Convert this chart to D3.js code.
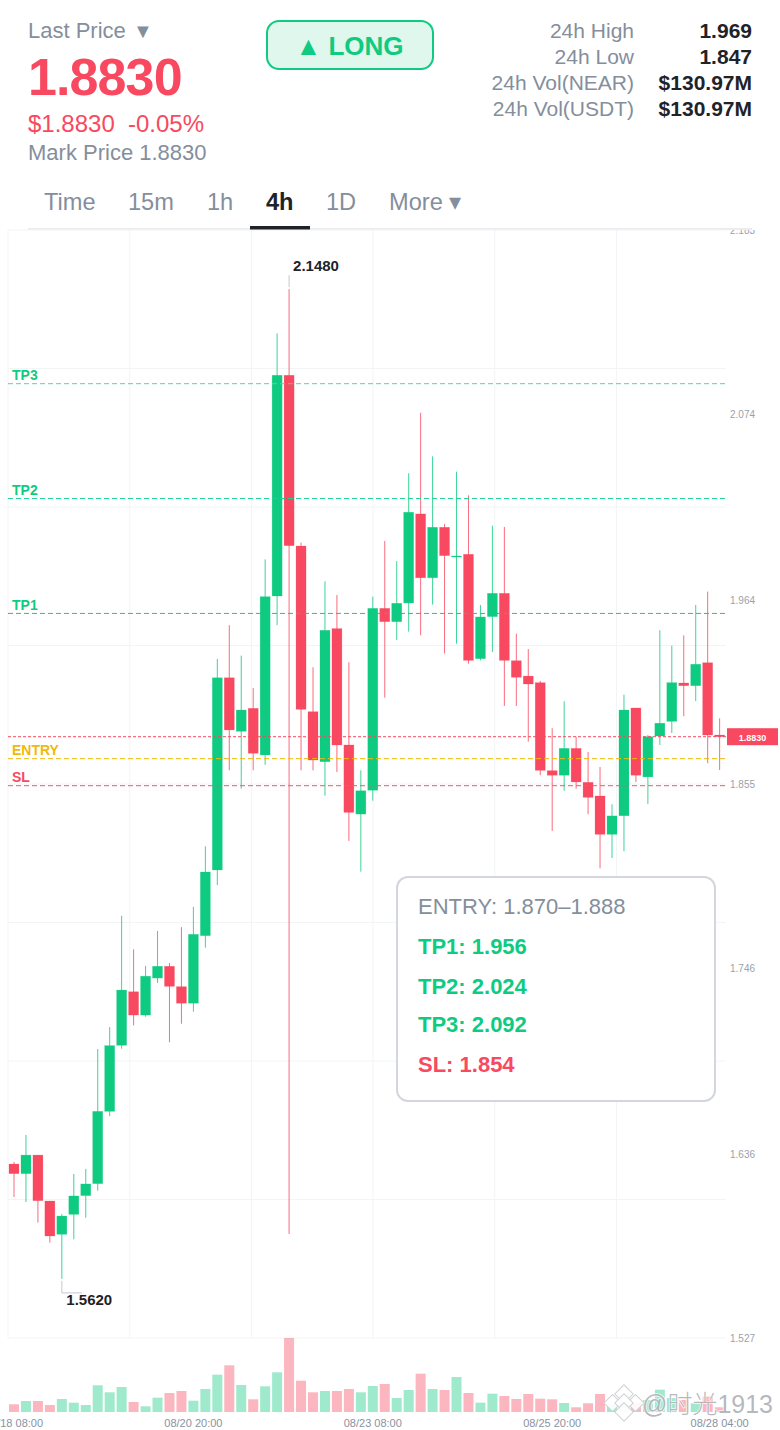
<!DOCTYPE html>
<html>
<head>
<meta charset="utf-8">
<script src="https://cdnjs.cloudflare.com/ajax/libs/d3/7.8.5/d3.min.js"></script>
<style>
html,body{margin:0;padding:0;background:#fff;}
svg{display:block;}
text{font-family:"Liberation Sans",Arial,sans-serif;}
</style>
</head>
<body>
<div id="chart"></div>
<script>
// ---- data ----
const opens  = [1.6300,1.6243,1.6353,1.6081,1.5884,1.6002,1.6113,1.6184,1.6612,1.7003,1.7320,1.7182,1.7401,1.7471,1.7350,1.7252,1.7652,1.8041,1.9179,1.8862,1.8998,1.8722,1.9663,2.0970,1.9959,1.8978,1.8682,1.9470,1.8781,1.8372,1.8513,1.9590,1.9511,1.9622,2.0149,1.9771,2.0070,1.9896,1.9910,1.9292,1.9541,1.9679,1.9280,1.9189,1.9150,1.8629,1.8602,1.8761,1.8560,1.8479,1.8252,1.8362,1.9000,1.8592,1.8834,1.8921,1.9148,1.9132,1.9268,1.8840];
const highs  = [1.6312,1.6472,1.6353,1.6081,1.6004,1.6241,1.6271,1.6981,1.7111,1.7770,1.7571,1.7473,1.7680,1.7490,1.7702,1.7822,1.8181,1.9290,1.9490,1.9310,1.9118,1.9880,2.1218,2.1480,1.9979,1.9241,1.9750,1.9669,1.9271,1.8631,1.9659,1.9989,1.9870,2.0390,2.0748,2.0490,2.0089,2.0399,2.0259,1.9610,2.0079,2.0072,1.9440,1.9349,1.9160,1.8880,1.9040,1.8830,1.8740,1.8651,1.8430,1.9079,1.9000,1.8840,1.9460,1.9369,1.9430,1.9610,1.9689,1.8939];
const lows   = [1.6105,1.6075,1.5953,1.5834,1.5620,1.5854,1.5982,1.6142,1.6583,1.6983,1.7121,1.7172,1.7372,1.7021,1.7131,1.7202,1.7581,1.7952,1.8631,1.8522,1.8631,1.8663,1.9491,1.5886,1.8631,1.8631,1.8481,1.8621,1.8213,1.8031,1.8451,1.9061,1.9403,1.9452,1.9430,1.9612,1.9322,1.9381,1.9262,1.9282,1.9332,1.9012,1.9012,1.8801,1.8602,1.8272,1.8510,1.8522,1.8371,1.8051,1.8112,1.8152,1.8562,1.8432,1.8781,1.8852,1.8951,1.9041,1.8673,1.8633];
const closes = [1.6243,1.6353,1.6083,1.5874,1.5992,1.6111,1.6182,1.6612,1.7001,1.7330,1.7182,1.7412,1.7471,1.7352,1.7252,1.7660,1.8029,1.9179,1.8870,1.8988,1.8732,1.9659,2.0970,1.9961,1.8992,1.8692,1.9460,1.8781,1.8382,1.8510,1.9590,1.9511,1.9620,2.0159,1.9771,2.0070,1.9902,1.9900,1.9282,1.9539,1.9679,1.9282,1.9182,1.9142,1.8631,1.8602,1.8761,1.8562,1.8471,1.8252,1.8361,1.8988,1.8602,1.8830,1.8910,1.9150,1.9132,1.9259,1.8840,1.8830];
const volumes = [7.7,11,11,7,13,9.3,7,26.7,19.7,25,10,5.7,14.3,19,21,11.3,23,37.3,46.7,27,12.7,25.7,39.7,74,31.3,19.7,21,21,23,19.7,26,28,14,22,38.3,23,22,35,19,9.3,18.3,16,13,18,13.3,12.7,9,4.7,8.7,18,8,7.7,9.3,12,22.3,14,12,8.7,15.3,4.7];
const maxVolume = 74;

const priceTicks = [2.183,2.074,1.964,1.855,1.746,1.636,1.527];
const gridPrices = [2.183,2.101,2.019,1.937,1.855,1.773,1.691,1.609,1.527];
const gridCandles = [-0.5,9.68,19.85,30.03,40.2,50.38];
const timeTicks = [0,15,30,45,59];
const timeLabels = ["08/18 08:00","08/20 20:00","08/23 08:00","08/25 20:00","08/28 04:00"];
const levelNames = ["TP3","TP2","TP1","ENTRY","SL"];
const levelPrices = [2.092,2.024,1.956,1.870,1.854];
const levelColors = ["#4fd8a8","#1fd195","#2db98c","#f0b90b","#f5566c"];
const lastPrice = 1.883;

const tabs = ["Time","15m","1h","4h","1D","More ▾"];
const statLabels = ["24h High","24h Low","24h Vol(NEAR)","24h Vol(USDT)"];
const statValues = ["1.969","1.847","$130.97M","$130.97M"];
const planLines = ["ENTRY: 1.870–1.888","TP1: 1.956","TP2: 2.024","TP3: 2.092","SL: 1.854"];

// ---- palette ----
const UP="#0ecb81", DOWN="#f84960", GREY="#848e9c", DARK="#1e2329";

const svg=d3.select("#chart").append("svg").attr("width",780).attr("height",1430).attr("viewBox","0 0 780 1430");
const T=(t,x,y,size,fill,o={})=>svg.append("text").text(t).attr("x",x).attr("y",y)
  .attr("font-size",size).attr("fill",fill).attr("font-weight",o.bold?700:400)
  .attr("text-anchor",o.anchor||"start").attr("letter-spacing",o.ls||null);

// ---- scales ----
const y=d3.scaleLinear().domain([1.527,2.183]).range([1338,230]);
const x=d3.scaleLinear().domain([0,59]).range([14,719.64]);
const yv=d3.scaleLinear().domain([0,maxVolume]).range([1412,1338]);

// ---- header ----
T("Last Price",28,38,22,GREY);
T("▼",133,38,20,GREY);
T("1.8830",28,95,52,DOWN,{bold:true,ls:-0.9});
T("$1.8830",28,132,24,DOWN);
T("-0.05%",128,132,24,DOWN);
T("Mark Price 1.8830",28,160,22,GREY);

svg.append("rect").attr("x",267).attr("y",21).attr("width",166).attr("height",48).attr("rx",12)
  .attr("fill","#dff7ec").attr("stroke",UP).attr("stroke-width",2);
T("▲ LONG",349.5,55,26,UP,{bold:true,anchor:"middle"});

const statY=d3.scalePoint().domain(statLabels).range([38,116]);
statLabels.forEach((l,i)=>{
  T(l,634,statY(l),21,GREY,{anchor:"end"});
  T(statValues[i],752,statY(l),21,DARK,{bold:true,anchor:"end"});
});

// tabs
const tabX=[44,128,207,266,326,389];
tabs.forEach((t,i)=>T(t,tabX[i],210,23.6,i===3?DARK:GREY,{bold:i===3}));
svg.append("rect").attr("x",28).attr("y",228).attr("width",724).attr("height",2).attr("fill","#eaecef");
svg.append("rect").attr("x",250).attr("y",226).attr("width",60).attr("height",4).attr("fill",DARK);

// ---- grid ----
const defs=svg.append("defs");
defs.append("clipPath").attr("id","plot").append("rect").attr("x",0).attr("y",230).attr("width",780).attr("height",1200);

const grid=svg.append("g").attr("stroke","#f3f4f6").attr("stroke-width",1);
grid.selectAll("line.h").data(gridPrices).join("line").attr("class","h")
  .attr("x1",8).attr("x2",726).attr("y1",d=>y(d)).attr("y2",d=>y(d));
grid.selectAll("line.v").data(gridCandles).join("line").attr("class","v")
  .attr("x1",d=>x(d)).attr("x2",d=>x(d)).attr("y1",230).attr("y2",1338);

// price labels
svg.append("g").attr("clip-path","url(#plot)").selectAll("text").data(priceTicks).join("text")
  .text(d=>d.toFixed(3)).attr("x",730).attr("y",d=>y(d)+4)
  .attr("font-size",10).attr("fill","#9aa1ad");

// ---- volume ----
const candles=opens.map((o,i)=>({i,o,h:highs[i],l:lows[i],c:closes[i],v:volumes[i]}));
const isUp=d=>d.c>=d.o;
svg.append("g").selectAll("rect").data(candles).join("rect")
  .attr("x",d=>x(d.i)-5).attr("width",10)
  .attr("y",d=>yv(d.v)).attr("height",d=>yv(0)-yv(d.v))
  .attr("fill",d=>isUp(d)?UP:DOWN).attr("opacity",0.4);

// time labels
timeTicks.forEach((t,i)=>T(timeLabels[i],x(t),1427,11,"#8a92a0",{anchor:"middle"}));

// ---- candles ----
const cg=svg.append("g");
cg.selectAll("line").data(candles).join("line")
  .attr("x1",d=>x(d.i)).attr("x2",d=>x(d.i))
  .attr("y1",d=>y(d.h)).attr("y2",d=>y(d.l))
  .attr("stroke",d=>isUp(d)?UP:DOWN).attr("stroke-width",1).attr("opacity",0.8);
cg.selectAll("rect").data(candles).join("rect")
  .attr("x",d=>x(d.i)-5).attr("width",10)
  .attr("y",d=>Math.min(y(d.o),y(d.c)))
  .attr("height",d=>Math.max(1,Math.abs(y(d.o)-y(d.c))))
  .attr("fill",d=>isUp(d)?UP:DOWN)
  .attr("stroke",d=>isUp(d)?UP:DOWN).attr("stroke-width",0.6).attr("stroke-opacity",0.35);

// ---- levels ----
const lg=svg.append("g");
lg.selectAll("line").data(levelPrices).join("line")
  .attr("x1",8).attr("x2",726).attr("y1",d=>y(d)).attr("y2",d=>y(d))
  .attr("stroke",(d,i)=>levelColors[i]).attr("stroke-width",1).attr("stroke-dasharray","5,3");
const labelColors=[UP,UP,UP,"#f0b90b",DOWN];
levelNames.forEach((n,i)=>T(n,12,y(levelPrices[i])-3.5,14,labelColors[i],{bold:true}));

svg.append("line").attr("x1",8).attr("x2",727).attr("y1",y(lastPrice)).attr("y2",y(lastPrice))
  .attr("stroke",DOWN).attr("stroke-width",1).attr("stroke-dasharray","3,2");
svg.append("rect").attr("x",727).attr("y",y(lastPrice)-8.5).attr("width",51).attr("height",17).attr("fill",DOWN);
T("1.8830",752.5,y(lastPrice)+4.5,9,"#fff",{bold:true,anchor:"middle"});

// ---- extreme annotations ----
const hiIdx=d3.maxIndex(highs);
const loIdx=d3.minIndex(lows);
svg.append("line").attr("x1",x(hiIdx)).attr("x2",x(hiIdx)).attr("y1",y(highs[hiIdx])-14).attr("y2",y(highs[hiIdx])-2)
  .attr("stroke","#c4c8cf").attr("stroke-width",1);
T(highs[hiIdx].toFixed(4),x(hiIdx)+4,271,15,DARK,{bold:true});
svg.append("path").attr("d",`M${x(loIdx)},${y(lows[loIdx])+2}V${y(lows[loIdx])+14}h20`)
  .attr("fill","none").attr("stroke","#c4c8cf").attr("stroke-width",1);
T(lows[loIdx].toFixed(4),x(loIdx)+4.5,1305,15,DARK,{bold:true});

// ---- plan card ----
svg.append("rect").attr("x",397).attr("y",877).attr("width",318).attr("height",224).attr("rx",11)
  .attr("fill","#fff").attr("stroke","#d3d6dc").attr("stroke-width",2);
const planY=[914,954,994,1032,1072];
const planCol=[GREY,UP,UP,UP,DOWN];
planLines.forEach((t,i)=>T(t,418,planY[i],22,planCol[i],{bold:i>0}));

// ---- watermark ----
const wm=svg.append("g");
const logo=[[624,1394,6.5],[612.5,1403,6],[635.5,1403,6],[624,1403,6.5],[624,1412,6.5]];
wm.selectAll("rect").data(logo).join("rect")
  .attr("x",d=>d[0]-d[2]).attr("y",d=>d[1]-d[2]).attr("width",d=>d[2]*2).attr("height",d=>d[2]*2)
  .attr("transform",d=>`rotate(45 ${d[0]} ${d[1]})`)
  .attr("fill","#fff").attr("fill-opacity",0.9).attr("stroke","#cfd1d4").attr("stroke-width",1);
wm.append("text").text("@时光1913").attr("x",642).attr("y",1413)
  .attr("font-size",25).attr("font-weight",300)
  .style("font-family",'"Liberation Sans","Noto Sans CJK SC",sans-serif')
  .attr("fill","#a9acb2").attr("fill-opacity",0.85)
  .attr("stroke","#fff").attr("stroke-width",1.6).attr("stroke-opacity",0.8).style("paint-order","stroke");
</script>
</body>
</html>
